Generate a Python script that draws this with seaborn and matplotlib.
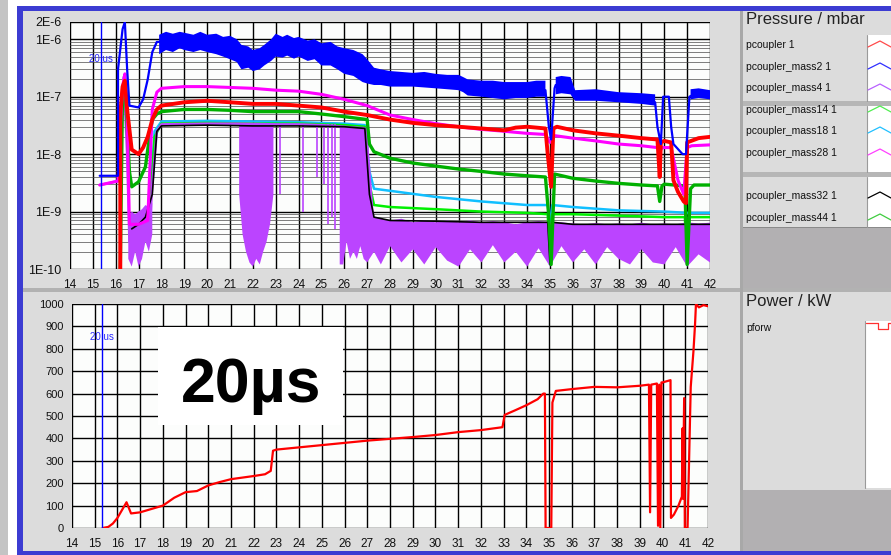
import matplotlib
matplotlib.use("Agg")
import matplotlib.pyplot as plt
from matplotlib.patches import Rectangle
from matplotlib.ticker import FixedLocator, MultipleLocator, NullFormatter
import seaborn as sns

NaN = float('nan')

# ---------------- data ----------------
# top panel: coupler pressures in mbar vs time
p1_x = [16.2, 16.2, 16.3, 16.4, 16.5, 16.7, 17.0, 17.2, 17.4, 17.6, 17.8, 18.0, 19.0, 20.0, 21.0, 22.0,
        23.0, 24.0, 25.0, 26.0, 27.0, 28.0, 29.0, 30.0, 31.0, 32.0, 33.0, 33.5, 34.0, 34.8, 34.9, 35.05,
        35.15, 35.3, 36.0, 37.0, 38.0, 39.0, 39.7, 39.8, 39.85, 40.0, 40.3, 40.4, 40.6, 40.85, 40.95,
        41.0, 41.5, 42.0]
p1_y = [1e-10, 5e-8, 1.5e-7, 1.9e-7, 6e-8, 1.2e-8, 1e-8, 1.3e-8, 2e-8, 4e-8, 6e-8, 7e-8, 8e-8, 8.5e-8,
        8e-8, 7.5e-8, 7.5e-8, 7e-8, 6.5e-8, 5.5e-8, 4.8e-8, 4e-8, 3.5e-8, 3.2e-8, 3e-8, 2.8e-8, 2.6e-8,
        2.9e-8, 3e-8, 2.8e-8, 1e-8, 2.7e-9, 2.8e-8, 3e-8, 2.6e-8, 2.3e-8, 2.1e-8, 1.9e-8, 1.8e-8, 4e-9,
        1.6e-8, 1.7e-8, 1.6e-8, 3.5e-9, 2.2e-9, 1.5e-9, 1.4e-9, 1.6e-8, 1.9e-8, 2e-8]

m2_x = [15.3, 16.1, 16.1, 16.3, 16.4, 16.5, 16.6, 17.0, 17.2, 17.4, 17.6, 17.8, 18.0, 19.0, 20.0, 21.0,
        21.5, 22.0, 22.5, 23.0, 23.5, 24.0, 25.0, 26.0, 26.8, 27.2, 28.0, 29.0, 30.0, 31.0, 31.3, 32.0,
        33.0, 34.0, 34.8, 34.95, 35.05, 35.2, 35.25, 35.9, 36.0, 37.0, 38.0, 39.0, 39.6, 39.7, 39.85,
        39.95, 40.0, 40.2, 40.3, 40.4, 40.8, 40.95, 41.1, 41.3, 42.0]
m2_y = [4.2e-9, 4.2e-9, 3e-7, 1.5e-6, 2e-6, 3e-7, 7e-8, 6.5e-8, 9e-8, 2e-7, 6e-7, 9e-7, 9e-7, 9.5e-7,
        9e-7, 7e-7, 5e-7, 4.5e-7, 5.5e-7, 8e-7, 7.5e-7, 7e-7, 5.5e-7, 4e-7, 3e-7, 2.2e-7, 2e-7, 1.9e-7,
        1.8e-7, 1.7e-7, 1.4e-7, 1.3e-7, 1.2e-7, 1.3e-7, 1.3e-7, 3e-8, 1.8e-8, 1.4e-7, 1.6e-7, 1.5e-7,
        1.05e-7, 1e-7, 9e-8, 8.5e-8, 8e-8, 3e-8, 1.5e-8, 1e-7, 1e-7, 1e-7, 3e-8, 1.5e-8, 1e-8, 1e-8,
        1e-7, 1.1e-7, 1.1e-7]
# noise envelope of mass2 (lower / upper edge of the band, NaN = no band)
m2_band_x = [17.9, 18.2, 18.5, 18.8, 19.0, 19.4, 19.7, 20.0, 20.4, 20.7, 21.0, 21.3, 21.5, 21.8, 22.0,
             22.3, 22.5, 22.8, 23.0, 23.3, 23.5, 23.8, 24.0, 24.4, 24.7, 25.0, 25.4, 25.7, 26.0, 26.4,
             26.8, 27.0, 27.3, 27.6, 28.0, 28.5, 29.0, 29.5, 30.0, 30.5, 31.0, 31.2, 31.4, 32.0, 32.5,
             33.0, 33.5, 34.0, 34.4, 34.8, NaN, 35.25, 35.5, 35.9, 36.1, 37.0, 38.0, 39.0, 39.6, NaN,
             41.15, 41.5, 42.0]
m2_band_hi = [1.2e-6, 1.35e-6, 1.25e-6, 1.35e-6, 1.3e-6, 1.2e-6, 1.35e-6, 1.2e-6, 1.25e-6, 1.1e-6,
              1.15e-6, 1e-6, 8e-7, 7.5e-7, 6.5e-7, 7e-7, 8e-7, 1e-6, 1.25e-6, 1.1e-6, 1.2e-6, 1.05e-6,
              1.1e-6, 9.5e-7, 1e-6, 8.5e-7, 9e-7, 7.5e-7, 7e-7, 6.5e-7, 5.5e-7, 4.5e-7, 3.2e-7, 3e-7,
              2.8e-7, 2.7e-7, 2.6e-7, 2.7e-7, 2.5e-7, 2.4e-7, 2.4e-7, 2.2e-7, 2e-7, 1.9e-7, 1.9e-7,
              1.8e-7, 1.8e-7, 1.8e-7, 1.9e-7, 1.9e-7, NaN, 2.2e-7, 2.3e-7, 2.2e-7, 1.3e-7, 1.35e-7,
              1.2e-7, 1.15e-7, 1.1e-7, NaN, 1.35e-7, 1.4e-7, 1.3e-7]
m2_band_lo = [5.5e-7, 6.5e-7, 6e-7, 7e-7, 6.5e-7, 6e-7, 6.5e-7, 6e-7, 5.5e-7, 5e-7, 4.5e-7, 4e-7,
              3e-7, 3.2e-7, 2.8e-7, 3e-7, 3.5e-7, 4.2e-7, 5e-7, 4.8e-7, 5.2e-7, 4.6e-7, 5e-7, 4.2e-7,
              4.5e-7, 3.5e-7, 3.5e-7, 3e-7, 2.5e-7, 2.3e-7, 1.8e-7, 1.7e-7, 1.6e-7, 1.6e-7, 1.5e-7,
              1.5e-7, 1.5e-7, 1.45e-7, 1.4e-7, 1.35e-7, 1.3e-7, 1.2e-7, 1.05e-7, 1e-7, 9.5e-8, 9e-8,
              9.5e-8, 9.5e-8, 1e-7, 1e-7, NaN, 1.1e-7, 1.15e-7, 1.1e-7, 8.5e-8, 8.5e-8, 8e-8, 7.5e-8,
              7e-8, NaN, 9e-8, 9.5e-8, 9e-8]

m4_x = [15.3, 16.1, 16.2, 16.35, 16.5, 16.6, 17.0, 17.5, 17.6, 17.8, 18.0, 20.0, 21.3, 23.0, 24.0,
        25.0, 26.0, 26.8, 27.0, 27.2, 28.0, 42.0]
m4_y = [2.9e-9, 3.4e-9, 3e-8, 2.2e-7, 1e-8, 3e-10, 4e-10, 6e-10, 3e-9, 2.5e-8, 3.3e-8, 3.4e-8, 3.4e-8,
        3.3e-8, 3.3e-8, 3.2e-8, 3e-8, 2.8e-8, 1.5e-9, 3e-10, 3e-10, 3e-10]
# dense dropout regions of mass4 (lower / upper edge, NaN = no dropout)
m4_drop_x = [16.55, 16.7, 16.85, 17.0, 17.15, 17.3, 17.45, 17.6, NaN,
             21.4, 21.55, 21.7, 21.85, 22.0, 22.15, 22.3, 22.45, 22.6, 22.75, 22.9, NaN,
             25.8, 25.95, 26.1, 26.25, 26.4, 26.55, 26.7, 26.85, 27.0, 27.3, 27.6, 28.0, 28.5, 29.0,
             29.5, 30.0, 30.5, 31.0, 31.5, 32.0, 32.5, 33.0, 33.5, 34.0, 34.5, 35.0, 35.5, 36.0, 36.5,
             37.0, 37.5, 38.0, 38.5, 39.0, 39.5, 40.0, 40.5, 41.0, 41.5, 42.0]
m4_drop_lo = [1.5e-10, 1.1e-10, 2e-10, 1.1e-10, 1.5e-10, 3e-10, 2e-10, 4e-10, NaN,
              2e-9, 4e-10, 2e-10, 1.3e-10, 1.1e-10, 1.5e-10, 1.2e-10, 2e-10, 3e-10, 6e-10, 2e-9, NaN,
              1.2e-10, 1.2e-10, 3e-10, 1.5e-10, 2e-10, 1.5e-10, 2.5e-10, 1.5e-10, 1.3e-10, 2e-10, 1.2e-10,
              2.5e-10, 1.3e-10, 2.2e-10, 1.2e-10, 2.4e-10, 1.4e-10, 1.1e-10, 2.2e-10, 1.3e-10, 2.6e-10,
              1.3e-10, 2e-10, 1.1e-10, 2.3e-10, 1.1e-10, 2.5e-10, 1.3e-10, 2.2e-10, 1.2e-10, 2.4e-10,
              1.5e-10, 1.2e-10, 2.2e-10, 1.3e-10, 1.2e-10, 2.4e-10, 1.1e-10, 1.8e-10, 1.3e-10]
m4_drop_hi = [8e-10, 1e-9, 9e-10, 1e-9, 1.1e-9, 1.3e-9, 1.2e-9, 1.4e-9, NaN,
              3.4e-8, 3.4e-8, 3.4e-8, 3.4e-8, 3.4e-8, 3.4e-8, 3.4e-8, 3.4e-8, 3.4e-8, 3.4e-8, 3.4e-8, NaN,
              3e-8, 3e-8, 3e-8, 3e-8, 3e-8, 3e-8, 3e-8, 3e-8, 2.8e-8, 8e-10, 7.5e-10, 7e-10, 7.5e-10,
              6.5e-10, 7e-10, 6.5e-10, 7e-10, 6.5e-10, 7e-10, 6.5e-10, 6.8e-10, 6.5e-10, 6e-10, 6.5e-10,
              6.8e-10, 6.5e-10, 6.5e-10, 6.2e-10, 6e-10, 6.3e-10, 6e-10, 6.2e-10, 6e-10, 6.4e-10,
              6e-10, 6.2e-10, 6e-10, 6.5e-10, 6.2e-10, 6.4e-10]
# single dropout spikes of mass4: position, depth
m4_spike_x = [23.2, 24.2, 24.8, 25.1, 25.3, 25.45, 25.6]
m4_spike_lo = [2e-9, 1e-9, 4e-9, 3e-9, 6e-10, 8e-10, 5e-10]

m14_x = [16.6, 17.0, 17.3, 17.5, 17.7, 18.0, 20.0, 22.0, 24.0, 26.0, 26.9, 27.1, 27.3, 28.0, 30.0,
         32.0, 34.0, 34.9, 35.0, 35.1, 36.0, 38.0, 40.0, 40.9, 41.0, 41.1, 42.0]
m14_y = [6e-10, 6.5e-10, 8e-10, 1.2e-9, 2e-8, 3.4e-8, 3.5e-8, 3.4e-8, 3.4e-8, 3.2e-8, 3e-8, 3e-9,
         1.3e-9, 1.2e-9, 1.1e-9, 1e-9, 9.5e-10, 9e-10, 1.2e-10, 9e-10, 9e-10, 8.5e-10, 8e-10, 8e-10,
         1.2e-10, 8e-10, 8e-10]

m18_x = [16.6, 17.0, 17.3, 17.5, 17.7, 18.0, 20.0, 22.0, 24.0, 26.0, 26.9, 27.1, 27.3, 28.0, 30.0,
         32.0, 34.0, 34.9, 35.0, 35.1, 36.0, 38.0, 40.0, 41.0, 42.0]
m18_y = [7e-10, 7e-10, 9e-10, 1.5e-9, 2.5e-8, 3.7e-8, 3.8e-8, 3.7e-8, 3.6e-8, 3.4e-8, 3.2e-8, 5e-9,
         2.5e-9, 2.3e-9, 1.8e-9, 1.5e-9, 1.3e-9, 1.3e-9, 6e-10, 1.3e-9, 1.2e-9, 1.05e-9, 1e-9, 9.5e-10,
         9.5e-10]

m28_x = [15.3, 16.1, 16.2, 16.3, 16.4, 16.5, 16.6, 17.0, 17.4, 17.6, 17.8, 18.0, 19.0, 20.0, 21.0,
         22.0, 23.0, 24.0, 25.0, 26.0, 27.0, 28.0, 29.0, 30.0, 31.0, 32.0, 33.0, 34.0, 34.8, 35.0, 35.2,
         36.0, 37.0, 38.0, 39.0, 39.7, 39.8, 39.9, 40.3, 40.6, 40.85, 41.0, 41.2, 42.0]
m28_y = [2.9e-9, 3.4e-9, 3e-8, 1.5e-7, 2.5e-7, 5e-8, 6e-10, 6e-10, 7e-10, 6e-8, 1.2e-7, 1.4e-7, 1.5e-7,
         1.5e-7, 1.45e-7, 1.4e-7, 1.3e-7, 1.25e-7, 1.1e-7, 9e-8, 7e-8, 4.8e-8, 4e-8, 3.4e-8, 3e-8,
         2.7e-8, 2.5e-8, 2.3e-8, 2.2e-8, 1.6e-8, 2.1e-8, 1.9e-8, 1.7e-8, 1.5e-8, 1.4e-8, 1.3e-8, 1.1e-8,
         1.3e-8, 1.3e-8, 3.5e-9, 2e-9, 1.3e-8, 1.4e-8, 1.45e-8]

m32_x = [16.7, 17.0, 17.3, 17.6, 17.8, 18.0, 20.0, 22.0, 24.0, 26.0, 26.9, 27.1, 27.3, 28.0, 30.0,
         32.0, 34.0, 34.9, 35.0, 35.1, 36.0, 38.0, 40.0, 42.0]
m32_y = [5e-10, 6e-10, 8e-10, 2e-9, 2.5e-8, 3.1e-8, 3.2e-8, 3.1e-8, 3.1e-8, 3e-8, 2.8e-8, 2e-9, 8e-10,
         7e-10, 6.8e-10, 6.5e-10, 6.5e-10, 6.5e-10, 1.2e-10, 6.5e-10, 6e-10, 6e-10, 6e-10, 6e-10]

m44_x = [16.2, 16.3, 16.4, 16.5, 16.6, 16.7, 17.0, 17.3, 17.4, 17.6, 17.8, 18.0, 19.0, 20.0, 21.0,
         22.0, 23.0, 24.0, 25.0, 26.0, 27.0, 27.1, 27.3, 28.0, 29.0, 30.0, 31.0, 32.0, 33.0, 34.0, 34.8,
         34.95, 35.05, 35.2, 36.0, 37.0, 38.0, 39.0, 39.7, 39.8, 39.9, 40.0, 40.9, 41.0, 41.15, 41.3, 42.0]
m44_y = [1e-10, 1.3e-7, 2e-7, 3e-8, 5e-9, 2.7e-9, 3.3e-9, 6e-9, 1.2e-8, 4e-8, 5e-8, 5.5e-8, 6e-8, 6e-8,
         5.8e-8, 5.5e-8, 5.5e-8, 5.5e-8, 5e-8, 4.5e-8, 4e-8, 1.5e-8, 1.1e-8, 8.5e-9, 7e-9, 6.2e-9, 5.5e-9,
         5e-9, 4.5e-9, 4.2e-9, 4e-9, 8e-10, 1.2e-10, 4.5e-9, 3.8e-9, 3.4e-9, 3.1e-9, 2.9e-9, 2.8e-9,
         1.5e-9, 2.8e-9, 3e-9, 2.8e-9, 1.2e-10, 2.5e-9, 2.9e-9, 2.9e-9]

# bottom panel: forward power in kW
pf_x = [15.35, 15.6, 15.8, 16.0, 16.2, 16.4, 16.6, 17.0, 17.5, 18.0, 18.5, 19.0, 19.5, 20.0, 20.5, 21.0,
        21.5, 22.0, 22.5, 22.75, 22.85, 23.0, 24.0, 25.0, 26.0, 27.0, 28.0, 29.0, 30.0, 31.0, 32.0,
        32.95, 33.05, 33.5, 34.0, 34.5, 34.75, 34.82, 34.85, 35.1, 35.15, 35.3, 36.0, 37.0, 38.0, 39.0,
        39.4, 39.45, 39.5, 39.75, 39.8, 39.85, 39.9, 39.95, 40.0, 40.35, 40.37, 40.5, 40.7, 40.85, 40.88,
        40.9, 40.95, 40.98, 41.1, 41.24, 41.36, 41.43, 41.47, 41.6, 41.8, 42.0]
pf_y = [0, 5, 20, 45, 80, 115, 65, 70, 85, 100, 135, 160, 165, 190, 205, 218, 225, 232, 240, 255, 345,
        350, 360, 370, 380, 390, 398, 406, 415, 428, 437, 450, 505, 525, 548, 575, 600, 600, 0, 0, 560,
        612, 620, 630, 628, 635, 640, 70, 640, 645, 10, 640, 0, 650, 650, 660, 45, 60, 100, 140, 445,
        130, 580, 0, 0, 630, 790, 910, 1000, 985, 995, 990]

# ---------------- figure ----------------
sns.set_style("white")
plt.rcParams['font.family'] = ['Liberation Sans', 'DejaVu Sans']

W, H = 891, 555
fig = plt.figure(figsize=(W / 100, H / 100), dpi=100)
fig.patch.set_facecolor('#dcdcdc')

# window chrome drawn in pixel space
bg = fig.add_axes([0, 0, 1, 1])
bg.set_xlim(0, W)
bg.set_ylim(H, 0)
bg.axis('off')


def box(x0, y0, x1, y1, color, **kw):
    bg.add_patch(Rectangle((x0, y0), x1 - x0, y1 - y0, facecolor=color, edgecolor='none', **kw))


box(0, 0, 8, H, '#c4c4c4')
box(8, 0, 17, H, '#ffffff')
box(8, 0, W, 6, '#ffffff')
box(17, 6, 23, H, '#3c3cd2')
box(17, 6, W, 11, '#3c3cd2')
box(17, 551, W, H, '#3c3cd2')
box(23, 288, W, 292, '#b2b2b2')
box(740, 11, 743, 551, '#a8a8a8')
# pressure legend
box(743, 101, W, 106, '#b6b6b6')
box(743, 172, W, 177, '#b6b6b6')
box(743, 228, W, 288, '#b2b0b2')
for y0, y1 in [(35, 101), (106, 172), (177, 227)]:
    box(867, y0, W, y1, '#ffffff')
    bg.plot([867, 867], [y0, y1], color='#9a9a9a', lw=0.8)
box(743, 227, W, 228, '#8a8a8a')
# power legend
box(743, 490, W, 551, '#b2b0b2')
box(865, 321, W, 488, '#ffffff')
bg.plot([865, 865], [321, 488], color='#9a9a9a', lw=0.8)

bg.text(746, 19, 'Pressure / mbar', fontsize=12, color='#222222', va='center', ha='left')
bg.text(746, 302, 'Power / kW', fontsize=12, color='#222222', va='center', ha='left')
legend_names = ['pcoupler 1', 'pcoupler_mass2 1', 'pcoupler_mass4 1', 'pcoupler_mass14 1',
                'pcoupler_mass18 1', 'pcoupler_mass28 1', 'pcoupler_mass32 1', 'pcoupler_mass44 1']
legend_colors = ['#ff4a4a', '#3030ff', '#b860ff', '#50ee50', '#20c0ff', '#ff40ff', '#000000', '#40cc40']
legend_rows = [45, 67, 88, 110, 131, 153, 196, 218]
for name, col, yy in zip(legend_names, legend_colors, legend_rows):
    bg.text(746, yy, name, fontsize=7.5, color='#111111', va='center', ha='left')
    bg.plot([868, 880, 891], [yy + 2, yy - 4, yy + 2], color=col, lw=0.9)
bg.text(746, 328, 'pforw', fontsize=7.5, color='#111111', va='center', ha='left')
bg.plot([866, 878, 878, 888, 888, 891], [323, 323, 329, 329, 323, 323], color='#ff3030', lw=0.9)


def style_axis(ax):
    ax.set_facecolor('#fcfdfc')
    for s in ax.spines.values():
        s.set_visible(False)
    ax.set_xlim(14, 42)
    ax.xaxis.set_major_locator(MultipleLocator(1))
    ax.xaxis.set_minor_locator(MultipleLocator(0.2))
    ax.tick_params(which='major', direction='out', length=4, width=1, color='black', pad=2,
                   labelsize=8.5, labelcolor='#111111')
    ax.tick_params(which='minor', direction='out', length=2, width=1, color='#222222')
    ax.tick_params(axis='x', pad=3.5)
    ax.grid(True, which='major', color='black', lw=1.0)
    ax.set_xlabel('')
    ax.set_ylabel('')


def trace(ax, x, y, color, lw):
    sns.lineplot(x=x, y=y, ax=ax, color=color, linewidth=lw, estimator=None, sort=False,
                 legend=False, zorder=3)


# ---- top panel ----
ax1 = fig.add_axes([70 / W, 1 - 269 / H, 640 / W, 247 / H], zorder=2)
ax1.set_yscale('log')
style_axis(ax1)
ax1.set_ylim(1e-10, 2e-6)
ax1.yaxis.set_major_locator(FixedLocator([1e-10, 1e-9, 1e-8, 1e-7, 1e-6, 2e-6]))
ax1.set_yticklabels(['1E-10', '1E-9', '1E-8', '1E-7', '1E-6', '2E-6'])
ax1.tick_params(axis='y', labelsize=9)
ax1.yaxis.set_minor_locator(FixedLocator([m * 10.0 ** e for e in range(-10, -6) for m in range(2, 10)]))
ax1.yaxis.set_minor_formatter(NullFormatter())
ax1.yaxis.grid(True, which='minor', color='#4a4a4a', lw=0.5)
ax1.xaxis.grid(False, which='minor')

trace(ax1, m18_x, m18_y, '#10bfff', 1.8)
trace(ax1, m14_x, m14_y, '#00f000', 1.8)
ax1.fill_between(m4_drop_x, m4_drop_lo, m4_drop_hi, color='#bb44ff', lw=0, zorder=3)
ax1.vlines(m4_spike_x, m4_spike_lo, 3.3e-8, color='#bb44ff', lw=1.2, zorder=3)
trace(ax1, m4_x, m4_y, '#bb44ff', 1.8)
trace(ax1, m32_x, m32_y, '#000000', 1.2)
trace(ax1, m44_x, m44_y, '#00b000', 2.4)
trace(ax1, m28_x, m28_y, '#ff00ff', 2.2)
trace(ax1, p1_x, p1_y, '#ff0000', 2.8)
ax1.fill_between(m2_band_x, m2_band_lo, m2_band_hi, color='#0000ff', lw=0, zorder=3)
trace(ax1, m2_x, m2_y, '#0000ff', 1.6)

ax1.axvline(15.34, color='#0000ff', lw=1.0, zorder=4)
ax1.text(15.34, 4.5e-7, '20 us', color='#2a2aff', fontsize=7, ha='center', va='center', zorder=5)

# ---- bottom panel ----
ax2 = fig.add_axes([72 / W, 1 - 528 / H, 636 / W, 224 / H], zorder=2)
style_axis(ax2)
ax2.set_ylim(0, 1000)
ax2.yaxis.set_major_locator(MultipleLocator(100))
ax2.yaxis.set_minor_locator(MultipleLocator(20))
ax2.tick_params(axis='y', labelsize=8)

trace(ax2, pf_x, pf_y, '#ff0000', 1.6)
ax2.axvline(15.32, color='#0000ff', lw=1.0, zorder=4)
ax2.text(15.34, 852, '20 us', color='#2a2aff', fontsize=7, ha='center', va='center', zorder=5)

ax2.add_patch(Rectangle((17.79, 459), 8.14, 438, facecolor='white', edgecolor='none', zorder=4))
ax2.text(21.88, 562, '20\u00b5s', fontsize=45, fontweight='bold', color='black',
         ha='center', va='baseline', zorder=5)

plt.savefig('out.png', dpi=100, facecolor=fig.get_facecolor())
